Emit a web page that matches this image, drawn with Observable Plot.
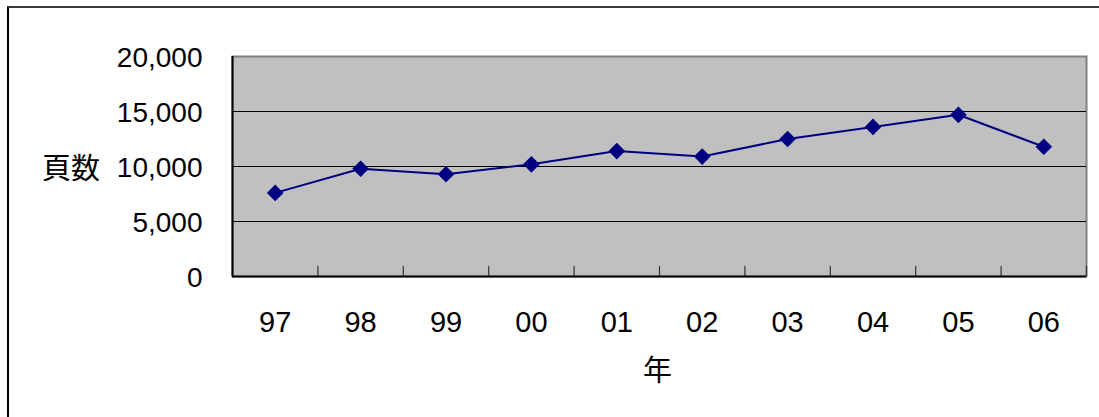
<!DOCTYPE html>
<html>
<head>
<meta charset="utf-8">
<script src="https://cdn.jsdelivr.net/npm/d3@7"></script>
<script src="https://cdn.jsdelivr.net/npm/@observablehq/plot@0.6"></script>
<style>
  body { margin: 0; background: #fff; }
  #wrap { position: relative; width: 1099px; height: 417px; overflow: hidden; }
  #frame { position: absolute; left: 7px; top: 6px; right: 0; bottom: -10px;
           border-top: 2px solid #3a3a3a; border-left: 2px solid #000; }
  #chart { position: absolute; left: 0; top: 0; }
  .title { position: absolute; font-family: "Noto Sans CJK JP", sans-serif; font-size: 29px; line-height: 1; color: #000; }
  #ylab { left: 42px; top: 152px; }
  #xlab { left: 643px; top: 354px; }
</style>
</head>
<body>
<div id="wrap">
  <div id="frame"></div>
  <div id="chart"></div>
  <div id="ylab" class="title">頁数</div>
  <div id="xlab" class="title">年</div>
</div>
<script>
const years = ["97", "98", "99", "00", "01", "02", "03", "04", "05", "06"];
const pages = [7600, 9800, 9300, 10200, 11400, 10900, 12500, 13600, 14700, 11800];
const yTicks = [0, 5000, 10000, 15000, 20000];
const gridValues = [5000, 10000, 15000];

const data = years.map((label, i) => ({ i: i + 0.5, label, pages: pages[i] }));
const boundaries = d3.range(1, years.length + 1);

const plot = Plot.plot({
  width: 1099,
  height: 417,
  marginLeft: 232,
  marginRight: 13,
  marginTop: 56,
  marginBottom: 141,
  style: { background: "transparent", fontFamily: "'Liberation Sans', Arial, sans-serif" },
  x: { domain: [0, years.length] },
  y: { domain: [0, 20000] },
  marks: [
    Plot.frame({ fill: "#c0c0c0", stroke: "#808080", strokeWidth: 2 }),
    Plot.ruleY(gridValues, { stroke: "#000", strokeWidth: 1 }),
    Plot.tickX(boundaries, { stroke: "#333", strokeWidth: 1.2, insetTop: 210 }),
    Plot.ruleY([0], { stroke: "#000", strokeWidth: 2 }),
    Plot.ruleX([0], { stroke: "#000", strokeWidth: 2 }),
    Plot.axisX(data.map(d => d.i), {
      tickSize: 0, tickPadding: 35,
      tickFormat: v => years[Math.floor(v)],
      fontSize: 29, fontFamily: "'Liberation Sans', sans-serif",
      fill: "#000", label: null
    }),
    Plot.axisY(yTicks, {
      tickSize: 0, tickPadding: 30,
      tickFormat: d3.format(","),
      fontSize: 28, fill: "#000", label: null, dy: 2
    }),
    Plot.line(data, { x: "i", y: "pages", stroke: "#000080", strokeWidth: 2 }),
    Plot.dot(data, { x: "i", y: "pages", symbol: "diamond2", r: 7.5, fill: "#000080", stroke: "none" })
  ]
});
document.getElementById("chart").appendChild(plot);
</script>
</body>
</html>
